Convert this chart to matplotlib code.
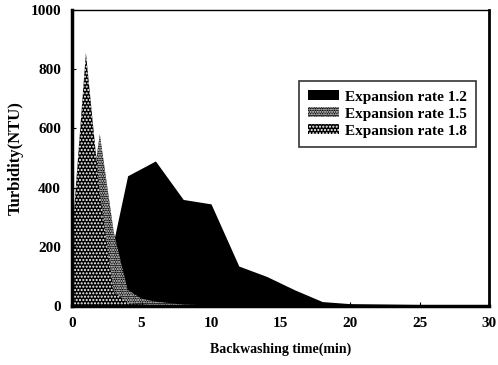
import numpy as np
import matplotlib
matplotlib.use('Agg')
import matplotlib.pyplot as plt

plt.rcParams['font.family'] = 'Liberation Serif'
plt.rcParams['font.weight'] = 'bold'
plt.rcParams['hatch.linewidth'] = 1.0

# data
t12 = [0, 1, 2, 3, 4, 5, 6, 8, 10, 12, 14, 16, 18, 20, 25, 30]
y12 = [0, 20, 60, 220, 440, 465, 490, 360, 345, 135, 100, 55, 15, 8, 5, 5]
t15 = [0, 1, 2, 3, 4, 5, 6, 8, 10, 30]
y15 = [60, 250, 580, 250, 55, 25, 15, 5, 2, 0]
t18 = [0, 1, 2, 3, 4, 5, 6, 30]
y18 = [230, 855, 380, 50, 10, 5, 2, 0]
labels = ['Expansion rate 1.2', 'Expansion rate 1.5', 'Expansion rate 1.8']

fig = plt.figure(figsize=(4.98, 3.65), dpi=100)
ax = fig.add_axes([0.1446, 0.1616, 0.8374, 0.811])

ax.fill_between(t12, y12, color='black', lw=0, label=labels[0])
ax.fill_between(t15, y15, facecolor='black', edgecolor='white', hatch='.......', lw=0, label=labels[1])
ax.fill_between(t18, y18, facecolor='black', edgecolor='white', hatch='.....', lw=0, label=labels[2])

ax.set_xlim(0, 30)
ax.set_ylim(0, 1000)
ax.set_xticks(np.arange(0, 31, 5))
ax.set_yticks(np.arange(0, 1001, 200))
ax.tick_params(direction='in', length=3, labelsize=11, pad=8)
ax.spines['left'].set_linewidth(2.5)
ax.spines['bottom'].set_linewidth(2.5)
ax.spines['right'].set_linewidth(2)
ax.spines['top'].set_linewidth(1)
ax.set_xlabel('Backwashing time(min)', fontsize=10, fontweight='bold', labelpad=9)
ax.set_ylabel('Turbidity(NTU)', fontsize=12, fontweight='bold', labelpad=5)

leg = ax.legend(loc='upper right', bbox_to_anchor=(0.98, 0.775), fontsize=11,
                frameon=True, fancybox=False, edgecolor='black',
                handlelength=2.0, handleheight=0.6, borderpad=0.6, labelspacing=0.25,
                handletextpad=0.4, borderaxespad=0.3)
leg.get_frame().set_linewidth(1.2)

fig.savefig('out.png', dpi=100)
